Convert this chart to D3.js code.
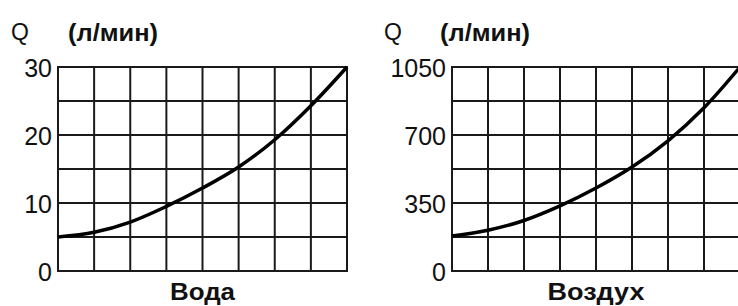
<!DOCTYPE html>
<html>
<head>
<meta charset="utf-8">
<script src="https://cdn.jsdelivr.net/npm/d3@7"></script>
<style>
    body { margin: 0; background: #fff; }
    svg { display: block; }
    text { font-family: "Liberation Sans", Arial, sans-serif; fill: #111; }
</style>
</head>
<body>
<div id="chart"></div>
<script>
(function () {

    // x positions along the grid (one per vertical grid line)
    var steps = [0, 1, 2, 3, 4, 5, 6, 7, 8];

    // flow values
    var waterQ = [5, 5.7, 7.2, 9.5, 12.2, 15.3, 19.3, 24.3, 30];
    var airQ = [180, 210, 260, 335, 427, 535, 670, 840, 1050];

    // horizontal grid lines and labelled ticks
    var waterGrid = [0, 5, 10, 15, 20, 25, 30];
    var waterTicks = [0, 10, 20, 30];
    var airGrid = [0, 175, 350, 525, 700, 875, 1050];
    var airTicks = [0, 350, 700, 1050];

    var titles = ["Вода", "Воздух"];
    var unit = "(л/мин)";

    var width = 738;
    var height = 306;

    var svg = d3.select("#chart")
        .append("svg")
        .attr("width", width)
        .attr("height", height);

    var top = 67, bottom = 271;

    var drawPanel = function (left, right, values, grid, ticks, title, titleW, qx, ux) {
        var x = d3.scaleLinear().domain([0, 8]).range([left, right]);
        var y = d3.scaleLinear().domain([0, grid[grid.length - 1]]).range([bottom, top]);

        var g = svg.append("g");

        // vertical grid
        g.selectAll(".vline")
            .data(steps)
            .enter()
            .append("line")
            .attr("x1", function (d) { return x(d); })
            .attr("x2", function (d) { return x(d); })
            .attr("y1", top)
            .attr("y2", bottom)
            .attr("stroke", "#1a1a1a")
            .attr("stroke-width", 2);

        // horizontal grid
        g.selectAll(".hline")
            .data(grid)
            .enter()
            .append("line")
            .attr("x1", left - 1)
            .attr("x2", right + 1)
            .attr("y1", function (d) { return y(d); })
            .attr("y2", function (d) { return y(d); })
            .attr("stroke", "#1a1a1a")
            .attr("stroke-width", 2);

        // tick labels
        g.selectAll(".tick")
            .data(ticks)
            .enter()
            .append("text")
            .attr("x", left - 6)
            .attr("y", function (d) { return y(d) + 10; })
            .attr("text-anchor", "end")
            .style("font-size", "25px")
            .text(function (d) { return d; });

        // curve
        var line = d3.line()
            .x(function (d, i) { return x(steps[i]); })
            .y(function (d) { return y(d); })
            .curve(d3.curveCatmullRom);

        g.append("path")
            .datum(values)
            .attr("d", line)
            .attr("fill", "none")
            .attr("stroke", "#000")
            .attr("stroke-width", 3.5);

        // axis caption
        g.append("text")
            .attr("x", qx)
            .attr("y", 40)
            .style("font-size", "23px")
            .text("Q");

        g.append("text")
            .attr("x", ux)
            .attr("y", 41)
            .attr("textLength", 90)
            .attr("lengthAdjust", "spacingAndGlyphs")
            .style("font-size", "24px")
            .style("font-weight", "bold")
            .text(unit);

        g.append("text")
            .attr("x", (left + right) / 2 - titleW / 2)
            .attr("y", 300)
            .attr("textLength", titleW)
            .attr("lengthAdjust", "spacingAndGlyphs")
            .style("font-size", "23px")
            .style("font-weight", "bold")
            .text(title);
    };

    drawPanel(58, 347, waterQ, waterGrid, waterTicks, titles[0], 65, 11, 68);
    drawPanel(452, 740, airQ, airGrid, airTicks, titles[1], 97, 384, 440);

})();
</script>
</body>
</html>
